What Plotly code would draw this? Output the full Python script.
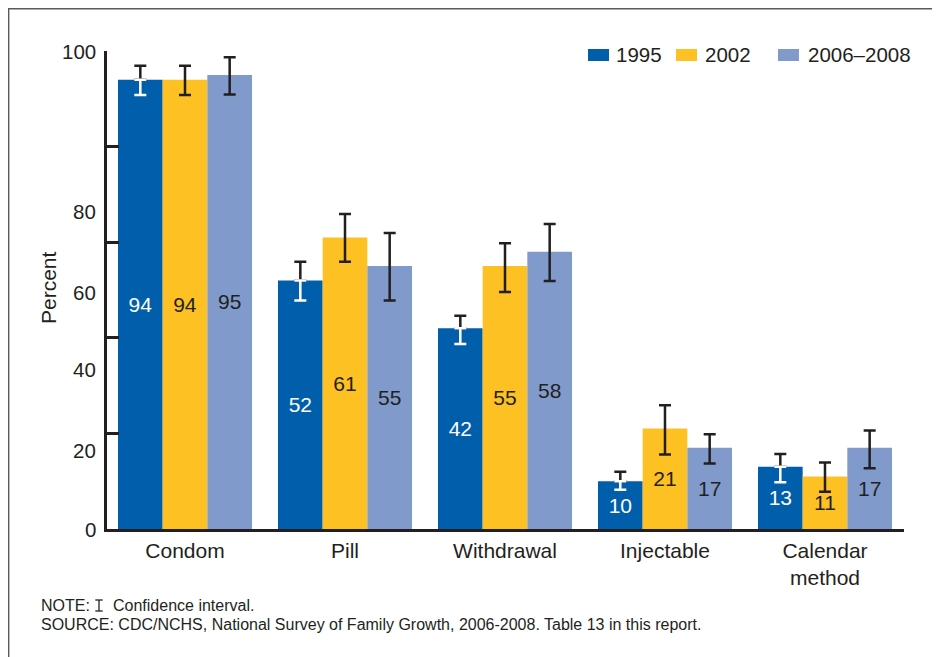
import plotly.graph_objects as go

# ---------------- data ----------------
categories = ["Condom", "Pill", "Withdrawal", "Injectable", "Calendar<br>method"]
series_names = ["1995", "2002", "2006–2008"]
v1995 = [94, 52, 42, 10, 13]
v2002 = [94, 61, 55, 21, 11]
v2006 = [95, 55, 58, 17, 17]
ci_hi_1995 = [96.9, 55.9, 44.6, 12.0, 15.7]
ci_lo_1995 = [90.8, 47.8, 38.7, 8.2, 9.8]
ci_hi_2002 = [96.9, 65.9, 59.8, 25.9, 13.9]
ci_lo_2002 = [90.8, 55.9, 49.6, 15.6, 7.8]
ci_hi_2006 = [98.7, 61.9, 63.8, 19.8, 20.6]
ci_lo_2006 = [90.9, 47.8, 51.9, 13.7, 12.7]
ytick_vals = [0, 20, 40, 60, 80, 100]
ytick_text = ["0", "20", "40", "60", "80", "100"]
ytick_label_pos = [0, 16.5, 33.3, 49.5, 66.4, 100]
note_text = "NOTE:"
note_text2 = "Confidence interval."
source_text = ("SOURCE: CDC/NCHS, National Survey of Family Growth, 2006-2008. "
               "Table 13 in this report.")

# ---------------- style ----------------
colors = ["#005eaa", "#fdc123", "#7f9acb"]
text_colors = ["#ffffff", "#231f20", "#231f20"]
dark = "#231f20"
FONT = "Liberation Sans, Arial, Helvetica, sans-serif"
OFF = 8  # page body margin
W, H = 932, 649
L, R, T, B = 99, 36, 43, 128
PW, PH = W - L - R, H - T - B
bar_w = 0.2792
offsets = [-bar_w, 0.0, bar_w]

def px_x(px):  # page pixel -> paper
    return (px - OFF - L) / PW

def px_y(py):
    return (H - B - (py - OFF)) / PH

fig = go.Figure()
values = [v1995, v2002, v2006]
his = [ci_hi_1995, ci_hi_2002, ci_hi_2006]
los = [ci_lo_1995, ci_lo_2002, ci_lo_2006]
xs_all = []
for k in range(3):
    xs = [i + offsets[k] for i in range(len(categories))]
    xs_all.append(xs)
    fig.add_trace(go.Bar(
        x=xs, y=values[k], width=bar_w, name=series_names[k],
        marker=dict(color=colors[k], line=dict(width=0)),
        text=[str(v) for v in values[k]], textposition="inside",
        insidetextanchor="middle", textangle=0,
        textfont=dict(family=FONT, size=21, color=text_colors[k]),
        showlegend=False, hoverinfo="skip",
    ))

for k in range(3):
    up = [h - v for h, v in zip(his[k], values[k])]
    dn = [v - l for l, v in zip(los[k], values[k])]
    if k == 0:
        fig.add_trace(go.Scatter(
            x=xs_all[k], y=values[k], mode="markers",
            marker=dict(color="rgba(0,0,0,0)", size=1),
            error_y=dict(type="data", symmetric=False, array=up,
                         arrayminus=[0] * len(up), color=dark,
                         thickness=2.5, width=6),
            showlegend=False, hoverinfo="skip"))
        fig.add_trace(go.Scatter(
            x=xs_all[k], y=values[k], mode="markers",
            marker=dict(color="rgba(0,0,0,0)", size=1),
            error_y=dict(type="data", symmetric=False, array=[0] * len(dn),
                         arrayminus=dn, color="#ffffff",
                         thickness=2.5, width=6),
            showlegend=False, hoverinfo="skip"))
    else:
        fig.add_trace(go.Scatter(
            x=xs_all[k], y=values[k], mode="markers",
            marker=dict(color="rgba(0,0,0,0)", size=1),
            error_y=dict(type="data", symmetric=False, array=up,
                         arrayminus=dn, color=dark,
                         thickness=2.5, width=6),
            showlegend=False, hoverinfo="skip"))

annotations = []
for pos, txt in zip(ytick_label_pos, ytick_text):
    annotations.append(dict(x=0, xref="paper", y=pos, yref="y", text=txt,
                            showarrow=False, xanchor="right", yanchor="middle",
                            xshift=-9, font=dict(family=FONT, size=20.5, color=dark)))
annotations.append(dict(x=px_x(48), xref="paper", y=px_y(288), yref="paper",
                        text="Percent", textangle=-90, showarrow=False,
                        xanchor="center", yanchor="middle",
                        font=dict(family=FONT, size=21, color=dark)))
shapes = []
leg_rect_x = [588, 676, 778]
leg_text_x = [614, 703, 806]
for k in range(3):
    shapes.append(dict(type="rect", xref="paper", yref="paper",
                       x0=px_x(leg_rect_x[k]), x1=px_x(leg_rect_x[k] + 21),
                       y0=px_y(61), y1=px_y(49), fillcolor=colors[k],
                       line=dict(width=0)))
    annotations.append(dict(x=px_x(leg_text_x[k]), xref="paper", y=px_y(54.5),
                            yref="paper", text=series_names[k], showarrow=False,
                            xanchor="left", yanchor="middle",
                            font=dict(family=FONT, size=20.5, color=dark)))
# notes
annotations.append(dict(x=px_x(39), xref="paper", y=px_y(605), yref="paper",
                        showarrow=False, xanchor="left", yanchor="middle",
                        text=note_text, font=dict(family=FONT, size=16, color=dark)))
annotations.append(dict(x=px_x(110.5), xref="paper", y=px_y(605), yref="paper",
                        showarrow=False, xanchor="left", yanchor="middle",
                        text=note_text2, font=dict(family=FONT, size=16, color=dark)))
annotations.append(dict(x=px_x(39), xref="paper", y=px_y(624), yref="paper",
                        showarrow=False, xanchor="left", yanchor="middle",
                        text=source_text, font=dict(family=FONT, size=16, color=dark)))
# confidence-interval symbol in the note
sym = dict(xref="paper", yref="paper", type="line", line=dict(color=dark, width=1.3))
shapes.append(dict(sym, x0=px_x(99), x1=px_x(99), y0=px_y(600), y1=px_y(611)))
shapes.append(dict(sym, x0=px_x(95.3), x1=px_x(102.7), y0=px_y(600), y1=px_y(600)))
shapes.append(dict(sym, x0=px_x(95.3), x1=px_x(102.7), y0=px_y(611), y1=px_y(611)))

# frame (top and left edges)
shapes.append(dict(type="line", xref="paper", yref="paper",
                   x0=px_x(8), x1=px_x(950), y0=px_y(8.7), y1=px_y(8.7),
                   line=dict(color="#5a5a5a", width=1.6)))
shapes.append(dict(type="line", xref="paper", yref="paper",
                   x0=px_x(8.7), x1=px_x(8.7), y0=px_y(8), y1=px_y(670),
                   line=dict(color="#5a5a5a", width=1.4)))

fig.update_layout(
    width=W, height=H,
    margin=dict(l=L, r=R, t=T, b=B),
    paper_bgcolor="white", plot_bgcolor="white",
    barmode="overlay",
    showlegend=False,
    font=dict(family=FONT, color=dark),
    annotations=annotations, shapes=shapes,
)
fig.update_xaxes(
    range=[-0.4875, 4.4938], tickvals=list(range(len(categories))),
    ticktext=categories, ticks="", showgrid=False, zeroline=False,
    showline=True, linecolor=dark, linewidth=2.5, ticklabelstandoff=1,
    tickfont=dict(family=FONT, size=21, color=dark),
)
fig.update_yaxes(
    range=[0, 100], tickvals=ytick_vals, showticklabels=False,
    ticks="inside", ticklen=12, tickwidth=2.5, tickcolor=dark,
    showgrid=False, zeroline=False, showline=True, linecolor=dark, linewidth=2.5,
)

fig.write_html("out.html")
